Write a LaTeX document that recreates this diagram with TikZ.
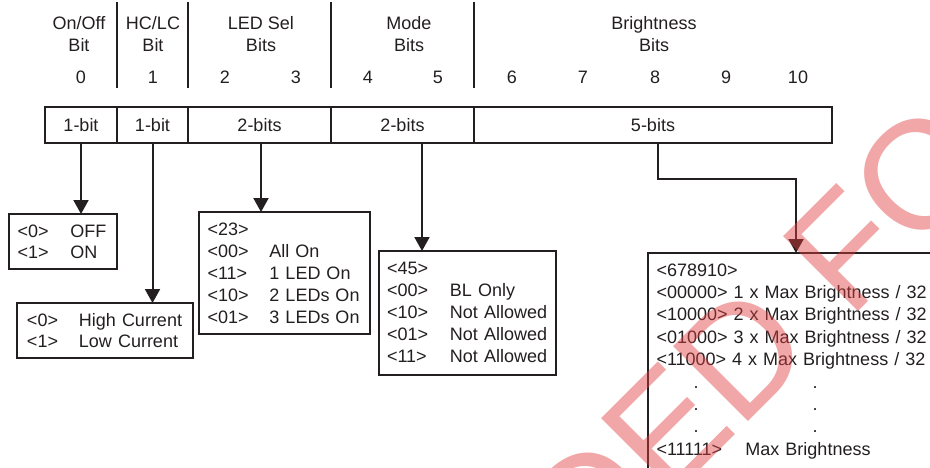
\documentclass[tikz,border=0pt]{standalone}
\usepackage{fontspec}
\setmainfont{Liberation Sans}
\usepackage{tikz}
\usetikzlibrary{
  arrows.meta,
  positioning,
  calc
}
\definecolor{ink}{HTML}{231F20}
\definecolor{wmred}{HTML}{E03C3C}
\newcommand\bitrow[3]{\makebox[#1][l]{#2}#3}

\begin{document}
\begin{tikzpicture}[
      x=1pt, y=-1pt,
      every node/.style={font=\fontsize{18}{22}\selectfont, text=ink},
      field/.style={
         rectangle,
         draw=ink,
         line width=2pt,
         minimum height=36pt,
         inner sep=0pt,
         outer sep=0pt
      },
      listbox/.style={
         rectangle,
         draw=ink,
         line width=2pt,
         anchor=north west,
         align=left,
         inner xsep=8.5pt,
         inner ysep=10.5pt,
         outer sep=0pt
      },
      hdr/.style={align=center, inner sep=0pt},
      num/.style={inner sep=0pt},
      rule/.style={draw=ink, line width=2pt},
      tip/.style={-{Triangle[width=15pt,length=14pt]}, draw=ink, line width=2pt},
      wmark/.style={
         rotate=45, inner sep=0pt, text=wmred, text opacity=0.45,
         font=\fontsize{154}{154}\selectfont
      }
    ]
  \useasboundingbox (0,0) rectangle (930,467);
  \clip (0,0) rectangle (930,467);

  % register fields
  \node (f0) [field, minimum width=72pt, anchor=north west] at (45,107) {1-bit};
  \node (f1) [field, minimum width=71pt, right=0pt of f0] {1-bit};
  \node (f2) [field, minimum width=143pt, right=0pt of f1] {2-bits};
  \node (f3) [field, minimum width=143pt, right=0pt of f2] {2-bits};
  \node (f4) [field, minimum width=358pt, right=0pt of f3] {5-bits};

  % header
  \foreach \f in {f1,f2,f3,f4}
    \draw[rule] ([yshift=19pt]\f.north west) -- ++(0,-86);
  \node (h0) [hdr] at (79,34) {On/Off\\Bit};
  \node (h1) [hdr] at (153,34) {HC/LC\\Bit};
  \node (h2) [hdr] at (261,34) {LED Sel\\Bits};
  \node (h3) [hdr] at (409,34) {Mode\\Bits};
  \node (h4) [hdr] at (654,34) {Brightness\\Bits};
  \foreach \n/\x in {0/81,1/153,2/225,3/296,4/368,5/438,6/512,7/583,8/655,9/726,10/798}
    \node (b\n) [num] at (\x,77) {\n};

  % value tables
  \node (onoff) [listbox, text width=91pt, font=\fontsize{18}{21}\selectfont] at (9,214)
    {\bitrow{53pt}{<0>}{OFF}\\\bitrow{53pt}{<1>}{ON}};
  \node (hclc) [listbox, inner xsep=10pt, text width=156pt, font=\fontsize{18}{20.5}\selectfont] at (17,303)
    {\bitrow{52pt}{<0>}{High Current}\\\bitrow{52pt}{<1>}{Low Current}};
  \node (ledsel) [listbox, text width=154pt] at (199,212)
    {<23>\\\bitrow{62pt}{<00>}{All On}\\\bitrow{62pt}{<11>}{1 LED On}\\
     \bitrow{62pt}{<10>}{2 LEDs On}\\\bitrow{62pt}{<01>}{3 LEDs On}};
  \node (mode) [listbox, inner xsep=8pt, inner ysep=11.5pt, text width=161pt] at (379,251)
    {<45>\\\bitrow{63pt}{<00>}{BL Only}\\\bitrow{63pt}{<10>}{Not Allowed}\\
     \bitrow{63pt}{<01>}{Not Allowed}\\\bitrow{63pt}{<11>}{Not Allowed}};
  \node (bright) [listbox, text width=360pt, font=\fontsize{18}{22.4}\selectfont] at (648,253)
    {<678910>\\
     <00000> 1 x Max Brightness / 32\\
     <10000> 2 x Max Brightness / 32\\
     <01000> 3 x Max Brightness / 32\\
     <11000> 4 x Max Brightness / 32\\
     \bitrow{156pt}{\hspace*{37pt}.}{.}\\
     \bitrow{156pt}{\hspace*{37pt}.}{.}\\
     \bitrow{156pt}{\hspace*{37pt}.}{.}\\
     \bitrow{89pt}{<11111>}{Max Brightness}};

  % connectors
  \draw[tip] (f0.south) -- (f0.south |- onoff.north);
  \draw[tip] (f1.south) -- (f1.south |- hclc.north);
  \draw[tip] ([xshift=1.5pt]f2.south) -- ([xshift=1.5pt]f2.south |- ledsel.north);
  \draw[tip] ([xshift=19.5pt]f3.south) -- ([xshift=19.5pt]f3.south |- mode.north);
  \draw[tip] ([xshift=5pt]f4.south) -- ++(0,36) -| ([xshift=148pt]bright.north west);

  % watermark
  \node (wmfor) [wmark, anchor=base west] at (849,321) {FOR NEW DESIGNS};
  \node (wmnot) [wmark, anchor=base east] at ($(wmfor.base west)!-43pt!(wmfor.base east)$) {NOT RECOMMENDED};
\end{tikzpicture}
\end{document}
